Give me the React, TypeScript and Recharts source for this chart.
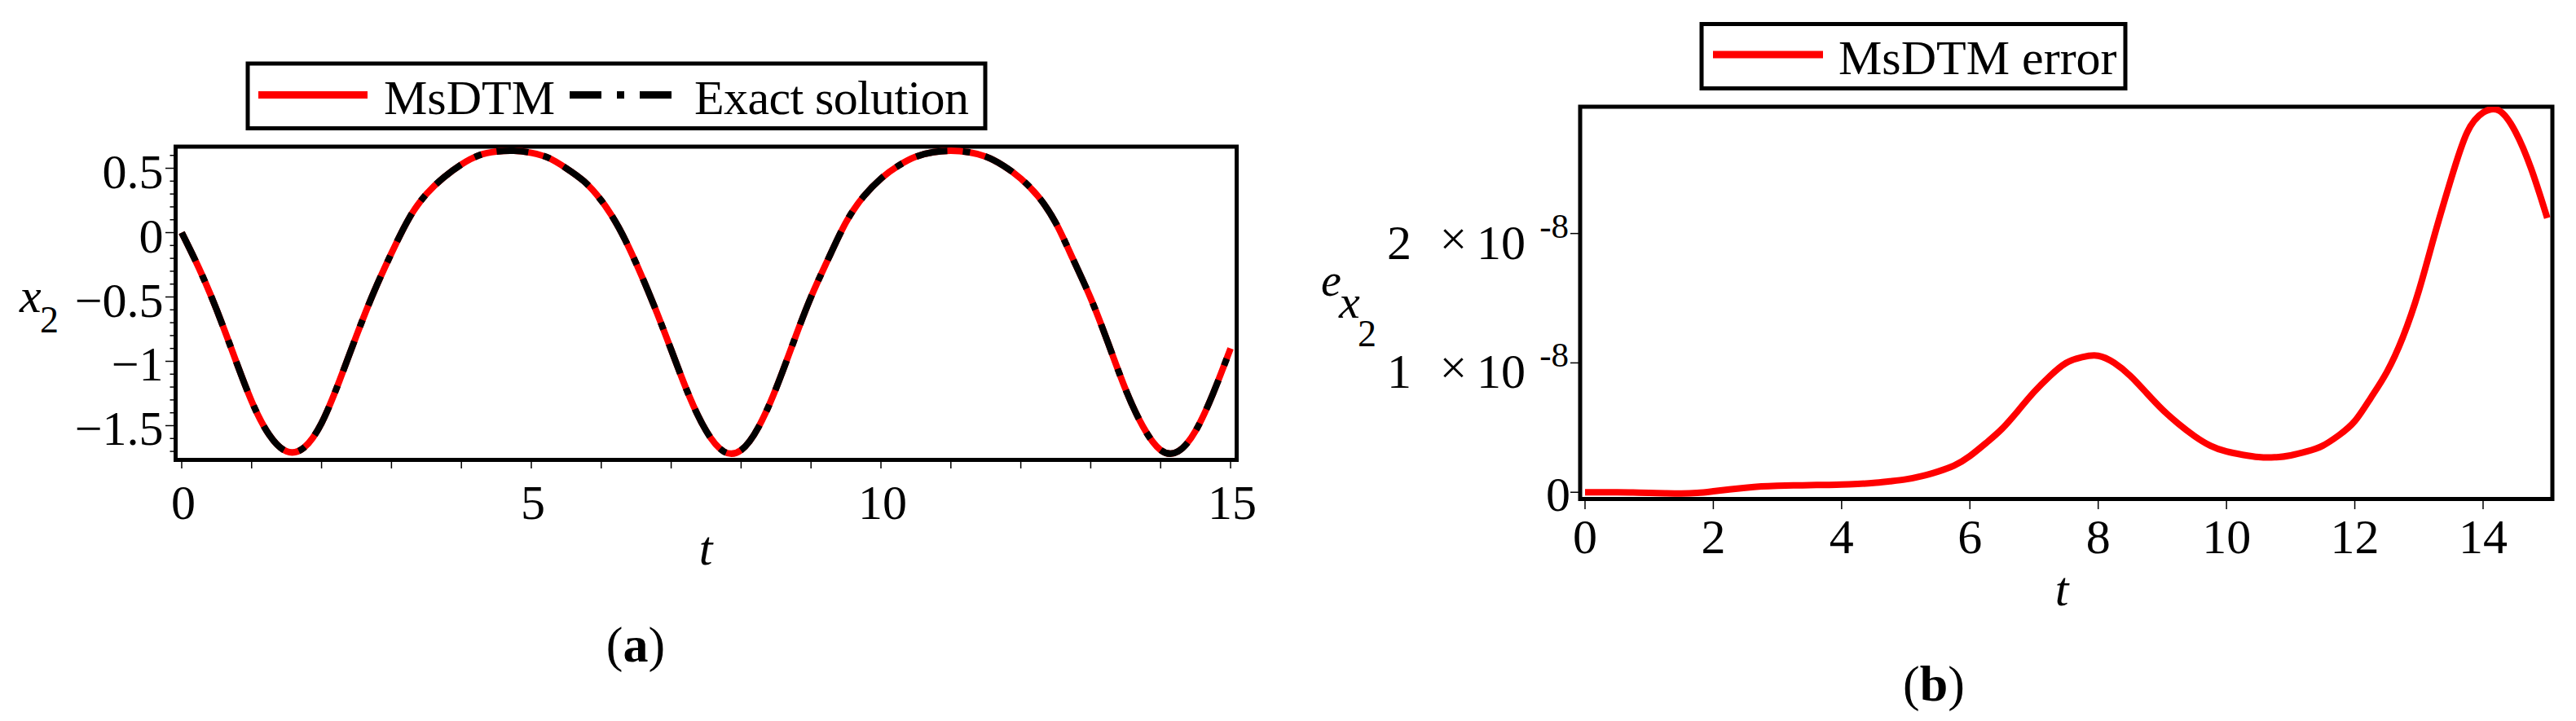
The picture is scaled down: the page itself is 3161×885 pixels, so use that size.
import { LineChart, Line, XAxis, YAxis, ReferenceArea } from "recharts";

// sample times (shared by both panels)
const tValues = [
  0, 0.25, 0.5, 0.75, 1, 1.25, 1.5, 1.75, 2, 2.25, 2.5, 2.75, 3, 3.25, 3.5, 3.75,
  4, 4.25, 4.5, 4.75, 5, 5.25, 5.5, 5.75, 6, 6.25, 6.5, 6.75, 7, 7.25, 7.5, 7.75,
  8, 8.25, 8.5, 8.75, 9, 9.25, 9.5, 9.75, 10, 10.25, 10.5, 10.75, 11, 11.25, 11.5,
  11.75, 12, 12.25, 12.5, 12.75, 13, 13.25, 13.5, 13.75, 14, 14.25, 14.5, 14.75, 15,
];

// panel (a): x2(t), MsDTM and exact solution lie on top of each other
const msdtmX2 = [
  0, -0.28, -0.6, -0.96, -1.31, -1.57, -1.7, -1.67, -1.48, -1.16, -0.8, -0.46, -0.16,
  0.11, 0.3, 0.43, 0.53, 0.6, 0.63, 0.636, 0.62, 0.58, 0.5, 0.4, 0.25, 0.04, -0.24,
  -0.56, -0.91, -1.26, -1.54, -1.7, -1.69, -1.51, -1.21, -0.85, -0.5, -0.2, 0.08,
  0.28, 0.42, 0.52, 0.59, 0.625, 0.636, 0.625, 0.59, 0.52, 0.42, 0.28, 0.075, -0.21,
  -0.51, -0.86, -1.22, -1.51, -1.69, -1.7, -1.54, -1.25, -0.9,
];
const exactX2 = msdtmX2;

// panel (b): error, in units of 1e-8
const errorX2 = [
  0, 0, 0, -0.002, -0.005, -0.008, -0.01, -0.005, 0.008, 0.022, 0.035, 0.045, 0.05,
  0.053, 0.055, 0.057, 0.059, 0.064, 0.072, 0.085, 0.1, 0.125, 0.16, 0.205, 0.28,
  0.38, 0.49, 0.63, 0.775, 0.9, 1.0, 1.045, 1.055, 1.0, 0.9, 0.77, 0.64, 0.53, 0.435,
  0.36, 0.315, 0.29, 0.272, 0.27, 0.285, 0.315, 0.36, 0.44, 0.55, 0.73, 0.93, 1.2,
  1.56, 2.0, 2.42, 2.78, 2.935, 2.95, 2.79, 2.5, 2.12,
];

const xTicksA = [0, 1, 2, 3, 4, 5, 6, 7, 8, 9, 10, 11, 12, 13, 14, 15];
const xLabelsA = [0, 5, 10, 15];
const yMajorA = [-1.5, -1, -0.5, 0, 0.5];
const yMinorA = [
  -1.7, -1.6, -1.5, -1.4, -1.3, -1.2, -1.1, -1, -0.9, -0.8, -0.7, -0.6, -0.5, -0.4,
  -0.3, -0.2, -0.1, 0, 0.1, 0.2, 0.3, 0.4, 0.5, 0.6,
];
const xTicksB = [0, 2, 4, 6, 8, 10, 12, 14];
const yTicksB = [0, 1, 2];

const xDomainA = [-0.087, 15.087];
const yDomainA = [-1.766, 0.668];
const xDomainB = [-0.076, 15.08];
const yDomainB = [-0.052, 2.98];

const dataA = tValues.map((t, i) => ({ t, msdtm: msdtmX2[i], exact: exactX2[i] }));
const dataB = tValues.map((t, i) => ({ t, err: errorX2[i] }));

const serif = '"Liberation Serif", "Times New Roman", Times, serif';
const dashDot = "39 19 9 19";

const fmtA = (v: number) => (v < 0 ? `\u2212${Math.abs(v)}` : `${v}`);

function XTickA({ x, y, payload }: any) {
  const v = payload.value;
  return (
    <g>
      <line x1={x} x2={x} y1={y} y2={y + 10.5} stroke="#000" strokeWidth={1.5} />
      {xLabelsA.includes(v) && (
        <text x={x + 2} y={y + 72.5} textAnchor="middle" fontFamily={serif} fontSize={60} fill="#000">
          {v}
        </text>
      )}
    </g>
  );
}

function YTickA({ x, y, payload }: any) {
  const v = payload.value;
  const major = yMajorA.some((m) => Math.abs(m - v) < 1e-6);
  return (
    <g>
      <line x1={x} x2={x - (major ? 12.5 : 7)} y1={y} y2={y} stroke="#000" strokeWidth={1.5} />
      {major && (
        <text x={x - 15} y={y + 24} textAnchor="end" fontFamily={serif} fontSize={60} fill="#000">
          {fmtA(v)}
        </text>
      )}
    </g>
  );
}

function XTickB({ x, y, payload }: any) {
  return (
    <g>
      <line x1={x} x2={x} y1={y} y2={y + 12.5} stroke="#000" strokeWidth={1.5} />
      <text x={x} y={y + 66.5} textAnchor="middle" fontFamily={serif} fontSize={60} fill="#000">
        {payload.value}
      </text>
    </g>
  );
}

function YTickB({ x, y, payload }: any) {
  const v = payload.value;
  return (
    <g fontFamily={serif} fill="#000">
      <line x1={x} x2={x - 12} y1={y} y2={y} stroke="#000" strokeWidth={1.5} />
      {v === 0 ? (
        <text x={x - 12} y={y + 23} textAnchor="end" fontSize={60}>
          0
        </text>
      ) : (
        <>
          <text x={x - 207} y={y + 31} textAnchor="end" fontSize={60}>
            {v}
          </text>
          <text x={x - 155.5} y={y + 26} textAnchor="middle" fontSize={60}>
            ×
          </text>
          <text x={x - 67} y={y + 31} textAnchor="end" fontSize={60}>
            10
          </text>
          <text x={x - 14} y={y + 5} textAnchor="end" fontSize={43}>
            -8
          </text>
        </>
      )}
    </g>
  );
}

export default function App() {
  return (
    <div
      style={{
        position: "absolute",
        left: 0,
        top: 0,
        width: 3161,
        height: 885,
        background: "#fff",
        overflow: "hidden",
      }}
    >
      {/* panel (a) */}
      <div style={{ position: "absolute", left: 0, top: 0 }}>
        <LineChart
          width={1600}
          height={885}
          data={dataA}
          margin={{ top: 180, right: 82.5, bottom: 220.5, left: 115.5 }}
        >
          <XAxis
            type="number"
            dataKey="t"
            domain={xDomainA}
            allowDataOverflow
            ticks={xTicksA}
            interval={0}
            axisLine={false}
            tickLine={false}
            tickSize={0}
            tickMargin={0}
            height={100}
            tick={<XTickA />}
          />
          <YAxis
            type="number"
            domain={yDomainA}
            allowDataOverflow
            ticks={yMinorA}
            interval={0}
            axisLine={false}
            tickLine={false}
            tickSize={0}
            tickMargin={0}
            width={100}
            tick={<YTickA />}
          />
          <ReferenceArea
            x1={xDomainA[0]}
            x2={xDomainA[1]}
            y1={yDomainA[0]}
            y2={yDomainA[1]}
            fill="none"
            stroke="#000"
            strokeWidth={5}
            ifOverflow="visible"
          />
          <Line
            type="natural"
            dataKey="msdtm"
            stroke="#ff0000"
            strokeWidth={8}
            dot={false}
            isAnimationActive={false}
          />
          <Line
            type="natural"
            dataKey="exact"
            stroke="#000"
            strokeWidth={8}
            strokeDasharray={dashDot}
            dot={false}
            isAnimationActive={false}
          />
        </LineChart>
      </div>

      {/* panel (b) */}
      <div style={{ position: "absolute", left: 1600, top: 0 }}>
        <LineChart
          width={1561}
          height={885}
          data={dataB}
          margin={{ top: 131, right: 29, bottom: 172.5, left: 239 }}
        >
          <XAxis
            type="number"
            dataKey="t"
            domain={xDomainB}
            allowDataOverflow
            ticks={xTicksB}
            interval={0}
            axisLine={false}
            tickLine={false}
            tickSize={0}
            tickMargin={0}
            height={100}
            tick={<XTickB />}
          />
          <YAxis
            type="number"
            domain={yDomainB}
            allowDataOverflow
            ticks={yTicksB}
            interval={0}
            axisLine={false}
            tickLine={false}
            tickSize={0}
            tickMargin={0}
            width={100}
            tick={<YTickB />}
          />
          <ReferenceArea
            x1={xDomainB[0]}
            x2={xDomainB[1]}
            y1={yDomainB[0]}
            y2={yDomainB[1]}
            fill="none"
            stroke="#000"
            strokeWidth={5}
            ifOverflow="visible"
          />
          <Line
            type="natural"
            dataKey="err"
            stroke="#ff0000"
            strokeWidth={8}
            dot={false}
            isAnimationActive={false}
          />
        </LineChart>
      </div>

      {/* legends, axis titles and captions */}
      <svg
        width={3161}
        height={885}
        style={{ position: "absolute", left: 0, top: 0, pointerEvents: "none" }}
        fontFamily={serif}
        fill="#000"
      >
        {/* legend (a) */}
        <rect x={304} y={78} width={905} height={79.5} fill="none" stroke="#000" strokeWidth={5} />
        <line x1={317} x2={451} y1={116.5} y2={116.5} stroke="#ff0000" strokeWidth={9} />
        <text x={471} y={140.4} fontSize={60}>
          MsDTM
        </text>
        <line x1={699} x2={825} y1={116.5} y2={116.5} stroke="#000" strokeWidth={9} strokeDasharray={dashDot} />
        <text x={852} y={140.4} fontSize={60} textLength={337} lengthAdjust="spacing">
          Exact solution
        </text>

        {/* legend (b) */}
        <rect x={2088} y={29.5} width={520} height={79} fill="none" stroke="#000" strokeWidth={5} />
        <line x1={2102} x2={2237} y1={67} y2={67} stroke="#ff0000" strokeWidth={9} />
        <text x={2256} y={90.6} fontSize={60}>
          MsDTM error
        </text>

        {/* axis titles (a) */}
        <text x={24} y={383} fontSize={60} fontStyle="italic">
          x
        </text>
        <text x={49} y={408} fontSize={46}>
          2
        </text>
        <text x={866} y={693} fontSize={60} fontStyle="italic" textAnchor="middle">
          t
        </text>

        {/* axis titles (b) */}
        <text x={1621} y={363} fontSize={56} fontStyle="italic">
          e
        </text>
        <text x={1643} y={390} fontSize={58} fontStyle="italic">
          x
        </text>
        <text x={1666} y={425} fontSize={46}>
          2
        </text>
        <text x={2530} y={743} fontSize={60} fontStyle="italic" textAnchor="middle">
          t
        </text>

        {/* captions */}
        <text x={780} y={812} fontSize={62} textAnchor="middle">
          (<tspan fontWeight="bold">a</tspan>)
        </text>
        <text x={2373} y={860} fontSize={62} textAnchor="middle">
          (<tspan fontWeight="bold">b</tspan>)
        </text>
      </svg>
    </div>
  );
}
